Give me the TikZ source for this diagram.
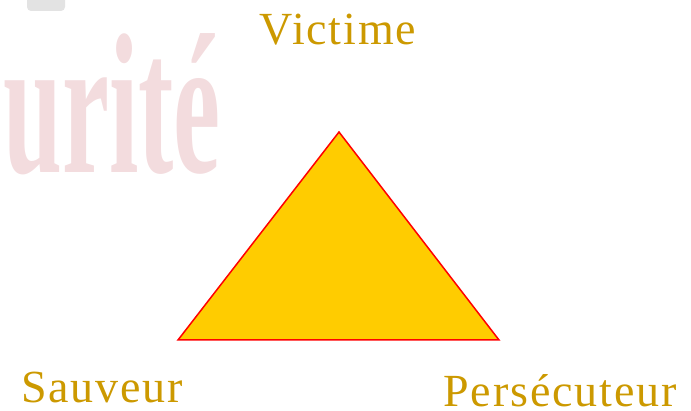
\documentclass[tikz,border=0pt]{standalone}
\usepackage{fontspec}
\setmainfont{Liberation Serif}
\newfontfamily\labelfont[LetterSpace=4]{Liberation Serif}
\usepackage{tikz}
\usetikzlibrary{calc}
\definecolor{gold}{RGB}{204,153,0}
\definecolor{tri}{RGB}{255,204,0}
\definecolor{wmpink}{RGB}{243,220,222}

\begin{document}
\begin{tikzpicture}[x=1pt,y=-1pt,
  role/.style={gold,inner sep=0pt,anchor=base,font=\labelfont\fontsize{46}{50}\selectfont},
  wmk/.style={wmpink,inner sep=0pt,anchor=base east,xscale=0.53,font=\bfseries\fontsize{200}{200}\selectfont},
  edge/.style={red,line width=1.5pt,line join=miter}]
\useasboundingbox (0,0) rectangle (691,411);
% watermark
\fill[gray!22,rounded corners=4pt] (27,-6) rectangle (65,11);
\node[wmk] (wm) at (221,173) {urité};
% triangle
\coordinate (apex) at (339,132);
\coordinate (left) at (178,340);
\coordinate (right) at (499,340);
\filldraw[edge,fill=tri] (apex) -- (right) -- (left) -- cycle;
% roles
\node[role] (victime) at (338,45) {Victime};
\node[role] (sauveur) at (102,403) {Sauveur};
\node[role] (persec) at (560,407) {Persécuteur};
\end{tikzpicture}
\end{document}
